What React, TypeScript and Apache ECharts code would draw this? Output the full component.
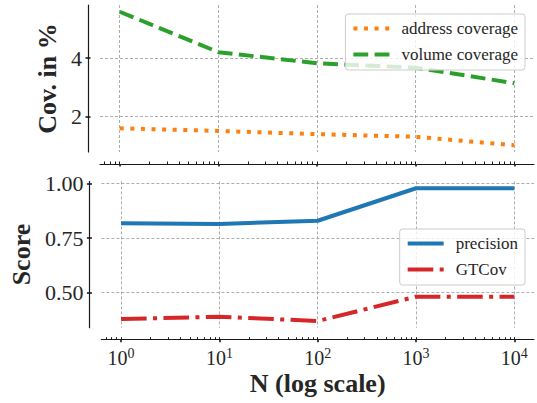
import React, { useEffect, useRef } from "react";
import * as echarts from "echarts";

const nValues = [1, 10, 100, 1000, 10000];
const addressCoverage = [1.6, 1.51, 1.4, 1.31, 1.02];
const volumeCoverage = [5.58, 4.2, 3.82, 3.67, 3.14];
const precision = [0.819, 0.815, 0.83, 0.979, 0.979];
const gtCov = [0.379, 0.39, 0.37, 0.482, 0.482];
const majorExponents = [0, 1, 2, 3, 4];
const covTicks = [2, 4];
const scoreTicks = [0.5, 0.75, 1.0];

const FONT = "'Liberation Serif', 'Times New Roman', serif";
const TXT = "#262626";
const SPINE = "#1a1a1a";

const minorTickValues: number[] = [];
for (let e = -1; e <= 4; e++) {
  for (let m = 1; m <= 9; m++) {
    const v = Math.log10(m * Math.pow(10, e));
    if (v >= -0.2 && v <= 4.2) minorTickValues.push(v);
  }
}

const toXY = (ys: number[]) => nValues.map((n, i) => [Math.log10(n), ys[i]]);

export default function App() {
  const ref = useRef<HTMLDivElement>(null);
  useEffect(() => {
    if (!ref.current) return;
    const chart = echarts.init(ref.current, undefined, { renderer: "svg" });
    const xMin = -0.2;
    const xMax = 4.2;
    const splitLine = {
      show: true,
      lineStyle: { color: "#999", width: 0.8, type: [3, 2] as any },
    };
    const mainX = (grid: number, labels: boolean) => ({
      type: "value",
      gridIndex: grid,
      position: "bottom",
      min: xMin,
      max: xMax,
      offset: 12,
      axisLine: { show: true, onZero: false, lineStyle: { color: SPINE, width: 1.2 } },
      axisTick: { show: true, customValues: majorExponents, length: 2.5, lineStyle: { color: SPINE, width: 1.6 } },
      axisLabel: {
        show: labels,
        customValues: majorExponents,
        margin: 7,
        fontFamily: FONT,
        formatter: (v: number) => `{b|10}{s|${Math.round(v)}}`,
        rich: {
          b: { fontFamily: FONT, fontSize: 20, color: TXT, lineHeight: 22 },
          s: { fontFamily: FONT, fontSize: 14, color: TXT, lineHeight: 14, verticalAlign: "top" },
        },
      },
      splitLine,
      name: labels ? "N (log scale)" : "",
      nameLocation: "middle",
      nameGap: 31,
      nameTextStyle: { fontFamily: FONT, fontSize: 26, fontWeight: "bold", color: TXT },
    });
    const minorX = (grid: number) => ({
      type: "value",
      gridIndex: grid,
      position: "bottom",
      min: xMin,
      max: xMax,
      offset: 12,
      axisLine: { show: false, onZero: false },
      axisTick: { show: true, inside: true, customValues: minorTickValues, length: 2.5, lineStyle: { color: SPINE, width: 1 } },
      axisLabel: { show: false },
      splitLine: { show: false },
    });
    const mainY = (grid: number, min: number, max: number, ticks: number[], fmt: (v: number) => string, name: string, gap: number) => ({
      type: "value",
      gridIndex: grid,
      position: "left",
      min,
      max,
      offset: 12,
      axisLine: { show: true, onZero: false, lineStyle: { color: SPINE, width: 1.2 } },
      axisTick: { show: true, customValues: ticks, length: 2.5, lineStyle: { color: SPINE, width: 1.6 } },
      axisLabel: { show: true, customValues: ticks, margin: 6, formatter: fmt, fontFamily: FONT, fontSize: 22, color: TXT },
      splitLine,
      name,
      nameLocation: "middle",
      nameGap: gap,
      nameTextStyle: { fontFamily: FONT, fontSize: 26, fontWeight: "bold", color: TXT },
    });
    const innerY = (grid: number, min: number, max: number, ticks: number[]) => ({
      type: "value",
      gridIndex: grid,
      position: "left",
      min,
      max,
      offset: 12,
      axisLine: { show: false, onZero: false },
      axisTick: { show: true, inside: true, customValues: ticks, length: 2.5, lineStyle: { color: SPINE, width: 1.6 } },
      axisLabel: { show: false },
      splitLine: { show: false },
    });
    const legendBase = {
      orient: "vertical",
      right: 12,
      itemWidth: 36,
      itemHeight: 14,
      itemGap: 9,
      padding: [6, 7, 7, 6],
      backgroundColor: "rgba(255,255,255,0.8)",
      borderColor: "#cccccc",
      borderWidth: 1,
      borderRadius: 3,
      itemStyle: { opacity: 0 },
      lineStyle: { width: 4 },
      textStyle: { fontFamily: FONT, fontSize: 17, color: TXT, padding: [0, 0, 0, 7] },
    };
    chart.setOption({
      animation: false,
      backgroundColor: "#ffffff",
      textStyle: { fontFamily: FONT },
      grid: [
        { left: 100, top: 5, width: 434, height: 147 },
        { left: 100, top: 181.4, width: 434, height: 146.3 },
      ],
      xAxis: [mainX(0, false), minorX(0), mainX(1, true), minorX(1)],
      yAxis: [
        mainY(0, 0.79, 5.81, covTicks, (v) => String(v), "Cov. in %", 20),
        innerY(0, 0.79, 5.81, covTicks),
        mainY(1, 0.3395, 1.0105, scoreTicks, (v) => v.toFixed(2), "Score", 49),
        innerY(1, 0.3395, 1.0105, scoreTicks),
      ],
      legend: [
        { ...legendBase, top: 14, data: ["address coverage", "volume coverage"] },
        { ...legendBase, top: 229, data: ["precision", "GTCov"] },
      ],
      series: [
        {
          name: "address coverage",
          type: "line",
          xAxisIndex: 0,
          yAxisIndex: 0,
          data: toXY(addressCoverage),
          symbol: "none",
          color: "#ff7f0e",
          lineStyle: { color: "#ff7f0e", width: 4, type: [4, 6.6], cap: "butt" },
        },
        {
          name: "volume coverage",
          type: "line",
          xAxisIndex: 0,
          yAxisIndex: 0,
          data: toXY(volumeCoverage),
          symbol: "none",
          color: "#2ca02c",
          lineStyle: { color: "#2ca02c", width: 4, type: [14.8, 6.4], cap: "butt" },
        },
        {
          name: "precision",
          type: "line",
          xAxisIndex: 2,
          yAxisIndex: 2,
          data: toXY(precision),
          symbol: "none",
          color: "#1f77b4",
          lineStyle: { color: "#1f77b4", width: 4 },
        },
        {
          name: "GTCov",
          type: "line",
          xAxisIndex: 2,
          yAxisIndex: 2,
          data: toXY(gtCov),
          symbol: "none",
          color: "#d62728",
          lineStyle: { color: "#d62728", width: 4, type: [25.6, 6.4, 4, 6.4], cap: "butt" },
        },
      ],
    });
    return () => chart.dispose();
  }, []);
  return <div ref={ref} style={{ position: "fixed", left: 0, top: 0, width: 537, height: 403 }} />;
}
